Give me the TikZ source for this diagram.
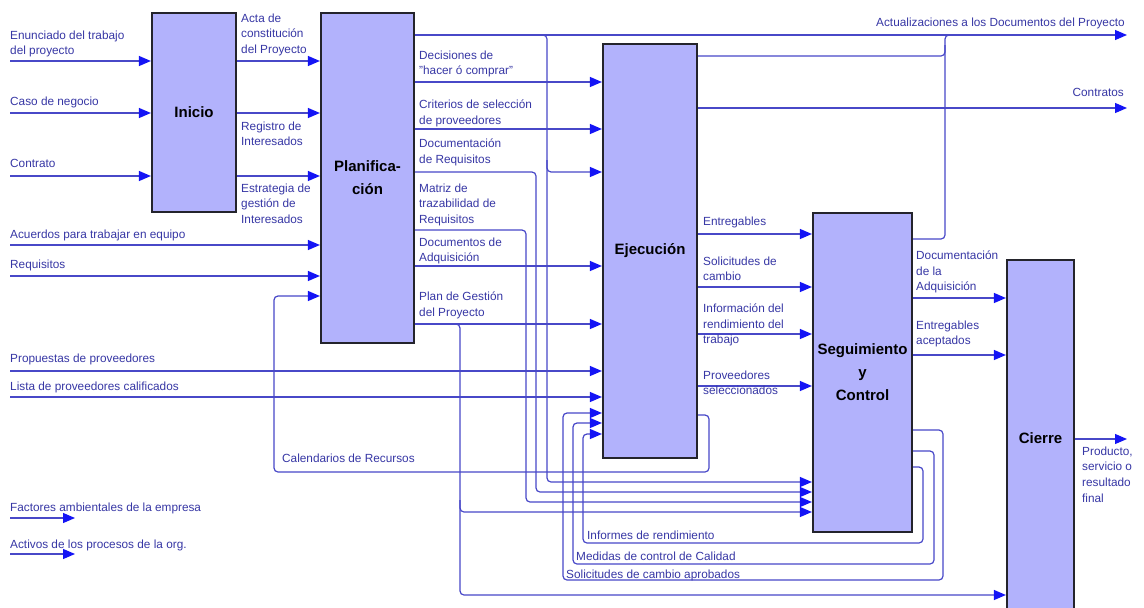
\documentclass[tikz,border=0pt]{standalone}
\usepackage{fontspec}
\setmainfont{Liberation Sans}
\usetikzlibrary{arrows.meta}
\definecolor{boxfill}{RGB}{178,178,252}
\definecolor{boxline}{RGB}{36,36,44}
\definecolor{flowblue}{RGB}{72,72,200}
\definecolor{tipblue}{RGB}{20,20,245}
\definecolor{lbltext}{RGB}{55,55,165}

\begin{document}
\begin{tikzpicture}[x=1pt,y=-1pt,
  box/.style={draw=boxline, line width=2.2pt, fill=boxfill, inner sep=0pt, align=center,
    font=\fontsize{15}{23}\selectfont\bfseries, text=black},
  lbl/.style={anchor=north west, inner sep=0pt, align=left, text=lbltext,
    font=\fontsize{11.8}{15.7}\selectfont},
  flow/.style={draw=flowblue, line width=1.2pt, rounded corners=4pt},
  arr/.style={flow, -{Triangle[length=12pt,width=10pt,color=tipblue]}},
]
\fill[white] (0,0) rectangle (1144,608);
\useasboundingbox (0,0) rectangle (1144,608);

% process groups
\node[box, minimum width=84pt, minimum height=199pt] (ini) at (194,112.5) {Inicio};
\node[box, minimum width=93pt, minimum height=330pt] (pla) at (367.5,178) {Planifica-\\ción};
\node[box, minimum width=94pt, minimum height=414pt] (eje) at (650,251) {Ejecución};
\node[box, minimum width=99pt, minimum height=319pt] (syc) at (862.5,372.5) {Seguimiento\\y\\Control};
\node[box, minimum width=67pt, minimum height=356pt] (cie) at (1040.5,438) {Cierre};

% free ends
\coordinate (sEnun) at (10,61);
\coordinate (sCaso) at (10,113);
\coordinate (sContr) at (10,176);
\coordinate (sAcu) at (10,245);
\coordinate (sReq) at (10,276);
\coordinate (sProp) at (10,371);
\coordinate (sLista) at (10,397);
\coordinate (sFact) at (10,518);
\coordinate (eFact) at (75,518);
\coordinate (sAct) at (10,554);
\coordinate (eAct) at (75,554);
\coordinate (eActu) at (1127,35);
\coordinate (eContr) at (1127,108);
\coordinate (eProd) at (1127,439);

% external inputs
\draw[arr] (sEnun) -- (sEnun -| ini.west);
\draw[arr] (sCaso) -- (sCaso -| ini.west);
\draw[arr] (sContr) -- (sContr -| ini.west);
\draw[arr] (sAcu) -- (sAcu -| pla.west);
\draw[arr] (sReq) -- (sReq -| pla.west);
\draw[arr] (sProp) -- (sProp -| eje.west);
\draw[arr] (sLista) -- (sLista -| eje.west);
\draw[arr] (sFact) -- (eFact);
\draw[arr] (sAct) -- (eAct);

% Inicio -> Planificacion
\draw[arr] (ini.east |- sEnun) -- (pla.west |- sEnun);
\draw[arr] (ini.east |- sCaso) -- (pla.west |- sCaso);
\draw[arr] (ini.east |- sContr) -- (pla.west |- sContr);

% Planificacion outputs
\draw[arr] (pla.east |- eActu) -- (eActu);
\draw[arr] (537,35) -| (547,482) -- (syc.west |- 0,482);
\draw[arr] (547,160) |- (eje.west |- 0,172);
\draw[arr] (pla.east |- 0,82) -- (eje.west |- 0,82);
\draw[arr] (pla.east |- 0,129) -- (eje.west |- 0,129);
\draw[arr] (pla.east |- 0,172) -| (536,492) -- (syc.west |- 0,492);
\draw[arr] (pla.east |- 0,230) -| (526,502) -- (syc.west |- 0,502);
\draw[arr] (pla.east |- 0,266) -- (eje.west |- 0,266);
\draw[arr] (pla.east |- 0,324) -- (eje.west |- 0,324);
\draw[arr] (455,324) -| (460,595) -- (cie.west |- 0,595);
\draw[arr] (460,500) |- (syc.west |- 0,512);

% Ejecucion outputs
\draw[flow] (eje.east |- 0,56) -| (945,45);
\draw[arr] (eje.east |- eContr) -- (eContr);
\draw[arr] (eje.east |- 0,234) -- (syc.west |- 0,234);
\draw[arr] (eje.east |- 0,287) -- (syc.west |- 0,287);
\draw[arr] (eje.east |- 0,334) -- (syc.west |- 0,334);
\draw[arr] (eje.east |- 0,386) -- (syc.west |- 0,386);
\draw[arr] (eje.east |- 0,415) -| (709,472) -| (274,296) -- (pla.west |- 0,296);

% Seguimiento y Control outputs
\draw[flow] (syc.east |- 0,239) -| (945,35) -- (955,35);
\draw[arr] (syc.east |- 0,298) -- (cie.west |- 0,298);
\draw[arr] (syc.east |- 0,355) -- (cie.west |- 0,355);
\draw[arr] (syc.east |- 0,430) -| (943,580) -| (563,413) -- (eje.west |- 0,413);
\draw[arr] (syc.east |- 0,451) -| (934,564) -| (573,423) -- (eje.west |- 0,423);
\draw[arr] (syc.east |- 0,467) -| (923,543) -| (583,434) -- (eje.west |- 0,434);

% Cierre output
\draw[arr] (cie.east |- eProd) -- (eProd);

% labels
\node[lbl] (tEnun) at (10,30.5) {Enunciado del trabajo\\del proyecto};
\node[lbl] (tCaso) at (10,96.5) {Caso de negocio};
\node[lbl] (tContr) at (10,159.5) {Contrato};
\node[lbl] (tAcu) at (10,229.5) {Acuerdos para trabajar en equipo};
\node[lbl] (tReq) at (10,259.5) {Requisitos};
\node[lbl] (tProp) at (10,353.5) {Propuestas de proveedores};
\node[lbl] (tLista) at (10,381.5) {Lista de proveedores calificados};
\node[lbl] (tFact) at (10,502.5) {Factores ambientales de la empresa};
\node[lbl] (tAct) at (10,539.5) {Activos de los procesos de la org.};
\node[lbl] (tActa) at (241,13.5) {Acta de\\constitución\\del Proyecto};
\node[lbl] (tReg) at (241,121.5) {Registro de\\Interesados};
\node[lbl] (tEst) at (241,183.5) {Estrategia de\\gestión de\\Interesados};
\node[lbl] (tDec) at (419,50.5) {Decisiones de\\\symbol{34}hacer ó comprar\symbol{34}};
\node[lbl] (tCri) at (419,99.5) {Criterios de selección\\de proveedores};
\node[lbl] (tDocR) at (419,138.5) {Documentación\\de Requisitos};
\node[lbl] (tMat) at (419,183.5) {Matriz de\\trazabilidad de\\Requisitos};
\node[lbl] (tDocA) at (419,237.5) {Documentos de\\Adquisición};
\node[lbl] (tPG) at (419,291.5) {Plan de Gestión\\del Proyecto};
\node[lbl, anchor=north east] (tActu) at (1125,17.5) {Actualizaciones a los Documentos del Proyecto};
\node[lbl, anchor=north east] (tContratos) at (1124,88.5) {Contratos};
\node[lbl] (tEnt) at (703,216.5) {Entregables};
\node[lbl] (tSol) at (703,256.5) {Solicitudes de\\cambio};
\node[lbl] (tInf) at (703,303.5) {Información del\\rendimiento del\\trabajo};
\node[lbl] (tProv) at (703,370.5) {Proveedores\\seleccionados};
\node[lbl] (tCal) at (282,453.5) {Calendarios de Recursos};
\node[lbl] (tDocAdq) at (916,250.5) {Documentación\\de la\\Adquisición};
\node[lbl] (tEntAc) at (916,320.5) {Entregables\\aceptados};
\node[lbl] (tInfR) at (587,530.5) {Informes de rendimiento};
\node[lbl] (tMed) at (576,551.5) {Medidas de control de Calidad};
\node[lbl] (tSolA) at (566,569.5) {Solicitudes de cambio aprobados};
\node[lbl] (tProd) at (1082,446.5) {Producto,\\servicio o\\resultado\\final};
\end{tikzpicture}
\end{document}
